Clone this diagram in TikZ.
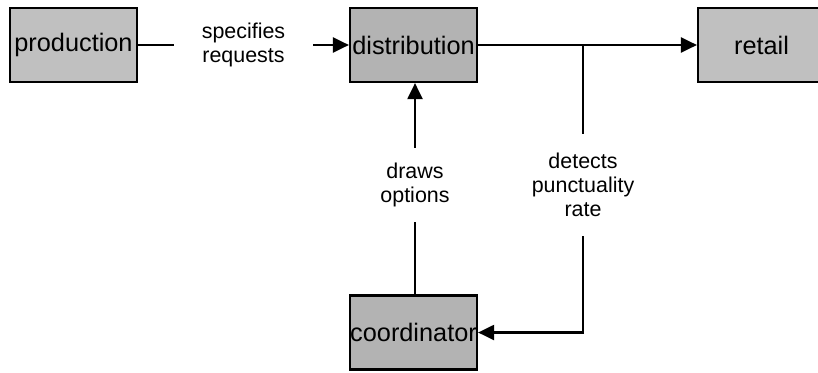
\documentclass[tikz,border=0pt]{standalone}
\usepackage{fontspec}
\setmainfont{Liberation Sans}
\usepackage{xcolor}
\usetikzlibrary{arrows.meta}

\definecolor{lightbox}{RGB}{192,192,192}
\definecolor{darkbox}{RGB}{179,179,179}

\begin{document}
\begin{tikzpicture}[line width=0.022cm, >={Triangle[length=0.16cm,width=0.15cm]},
  unit/.style={rectangle, draw, inner sep=0pt, minimum width=1.27cm, minimum height=0.74cm,
    font=\fontsize{7.2}{8}\selectfont},
  flow/.style={inner sep=0pt, align=center, font=\fontsize{6.1}{6.9}\selectfont}]
\useasboundingbox (0,0) rectangle (8.18,3.72);

\node[unit, fill=lightbox] (production) at (0.735,3.27) {production};
\node[unit, fill=darkbox] (distribution) at (4.135,3.27) {distribution};
\node[unit, fill=lightbox] (retail) at (7.615,3.27) {retail};
\node[unit, fill=darkbox] (coordinator) at (4.135,0.395) {coordinator};

\node[flow, minimum width=1.37cm] (specifies) at (2.435,3.27) {specifies\\requests};
\node[flow, minimum height=0.72cm] (draws) at (4.15,1.87) {draws\\options};
\node[flow, minimum height=1.0cm] (detects) at (5.83,1.87) {detects\\punctuality\\rate};
\coordinate (branch) at (5.83,3.27);

\draw (production) -- (specifies);
\draw[->] (specifies) -- (distribution);
\draw[->] (distribution) -- (retail);
\draw (branch) -- (detects);
\draw[->] (detects) |- (coordinator);
\draw (coordinator.north -| draws) -- (draws);
\draw[->] (draws) -- (draws |- distribution.south);
\end{tikzpicture}
\end{document}
